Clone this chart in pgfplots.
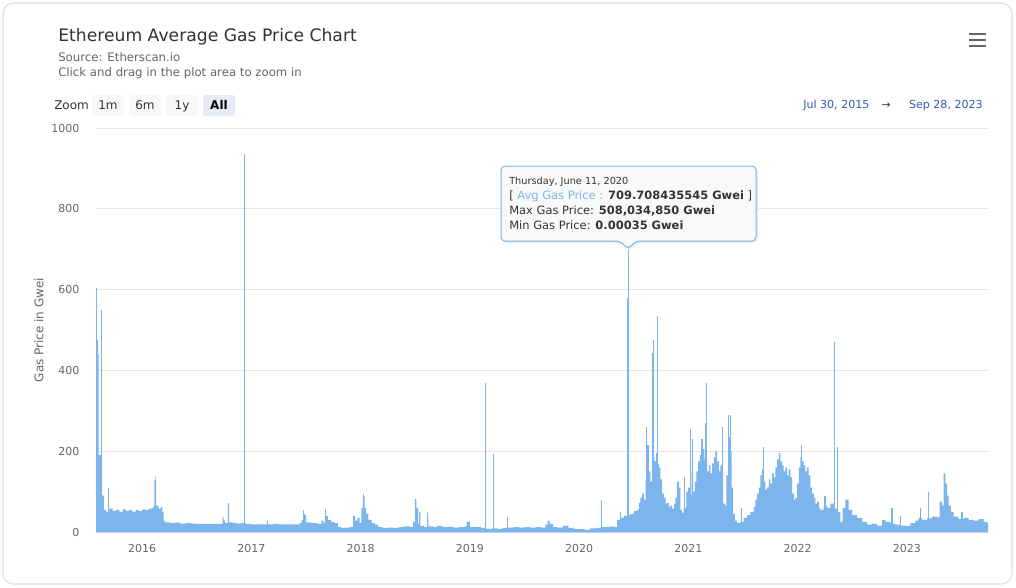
\documentclass[border=0pt]{standalone}
\usepackage{fontspec}
\setmainfont{DejaVu Sans}
\usepackage{pgfplots}
\pgfplotsset{compat=1.18}
\definecolor{bar}{HTML}{7CB5EC}
\definecolor{txt}{HTML}{333333}
\definecolor{sub}{HTML}{666666}
\definecolor{gridc}{HTML}{E6E6E6}
\definecolor{axisc}{HTML}{CCD6EB}
\definecolor{range}{HTML}{335CAD}
\definecolor{btn}{HTML}{F7F7F7}
\definecolor{btnsel}{HTML}{E6EBF5}
\definecolor{tipbg}{HTML}{F9F9F9}

\pgfplotstableread{
x y
2015.577 475
2015.586 475
2015.595 440
2015.601 190
2015.632 90
2015.650 55
2015.670 50
2015.700 58
2015.730 52
2015.760 55
2015.790 50
2015.820 56
2015.850 52
2015.880 55
2015.910 50
2015.940 54
2015.970 52
2016.000 56
2016.030 54
2016.060 58
2016.090 60
2016.105 65
2016.112 128
2016.120 138
2016.128 65
2016.150 58
2016.170 62
2016.185 50
2016.195 28
2016.210 24
2016.250 22
2016.300 23
2016.350 21
2016.400 22
2016.450 21
2016.500 20
2016.550 20
2016.600 20
2016.650 20
2016.700 20
2016.735 38
2016.745 28
2016.760 22
2016.785 65
2016.795 24
2016.830 22
2016.870 21
2016.900 22
2016.950 20
2017.000 19
2017.050 19
2017.100 19
2017.140 28
2017.150 19
2017.200 20
2017.250 19
2017.300 19
2017.350 19
2017.400 19
2017.440 22
2017.460 30
2017.475 45
2017.490 42
2017.500 24
2017.550 22
2017.600 20
2017.640 28
2017.660 22
2017.680 40
2017.700 30
2017.730 25
2017.760 22
2017.790 12
2017.820 10
2017.860 11
2017.900 12
2017.930 40
2017.950 28
2017.970 35
2017.990 22
2018.005 60
2018.020 88
2018.035 60
2018.050 45
2018.070 30
2018.100 22
2018.130 18
2018.160 12
2018.200 10
2018.250 11
2018.300 10
2018.350 12
2018.400 14
2018.450 12
2018.480 25
2018.495 80
2018.510 60
2018.525 20
2018.535 50
2018.545 15
2018.580 12
2018.610 35
2018.620 14
2018.660 12
2018.700 15
2018.750 12
2018.800 13
2018.850 11
2018.900 12
2018.950 14
2018.970 25
2019.000 12
2019.050 13
2019.100 10
2019.150 8
2019.200 9
2019.250 8
2019.300 10
2019.350 11
2019.400 12
2019.450 11
2019.500 12
2019.550 11
2019.600 12
2019.650 11
2019.690 18
2019.710 28
2019.730 20
2019.760 12
2019.800 11
2019.850 15
2019.900 10
2019.950 8
2020.000 7
2020.050 5
2020.100 9
2020.150 10
2020.210 12
2020.250 13
2020.290 14
2020.317 12
2020.347 30
2020.378 35
2020.408 40
2020.439 42
2020.469 45
2020.500 52
2020.530 55
2020.546 72
2020.561 85
2020.576 95
2020.591 80
2020.607 130
2020.616 175
2020.622 215
2020.637 150
2020.652 125
2020.668 185
2020.689 175
2020.701 195
2020.713 168
2020.729 160
2020.744 130
2020.759 95
2020.774 85
2020.790 70
2020.805 72
2020.820 62
2020.835 66
2020.851 58
2020.866 70
2020.881 85
2020.896 125
2020.912 110
2020.927 55
2020.942 48
2020.957 60
2020.982 100
2020.997 110
2021.012 92
2021.028 150
2021.043 100
2021.058 125
2021.073 150
2021.089 175
2021.104 190
2021.116 230
2021.131 205
2021.146 180
2021.171 150
2021.186 165
2021.201 145
2021.217 170
2021.232 185
2021.247 200
2021.262 175
2021.278 150
2021.293 165
2021.317 70
2021.333 65
2021.348 140
2021.363 235
2021.378 200
2021.394 110
2021.409 45
2021.424 28
2021.445 22
2021.476 25
2021.506 35
2021.537 42
2021.567 50
2021.598 62
2021.613 80
2021.628 95
2021.644 110
2021.659 140
2021.674 155
2021.689 125
2021.705 105
2021.720 110
2021.735 130
2021.750 120
2021.766 145
2021.781 135
2021.796 160
2021.811 180
2021.827 195
2021.842 175
2021.857 165
2021.872 150
2021.888 160
2021.903 140
2021.918 155
2021.933 135
2021.949 95
2021.964 80
2021.979 85
2021.994 120
2022.010 160
2022.025 185
2022.040 175
2022.055 165
2022.071 150
2022.086 160
2022.101 140
2022.116 110
2022.132 95
2022.147 85
2022.162 70
2022.177 75
2022.193 60
2022.208 55
2022.238 65
2022.269 60
2022.299 70
2022.330 58
2022.360 50
2022.391 25
2022.412 60
2022.437 80
2022.467 55
2022.498 42
2022.543 35
2022.589 25
2022.635 18
2022.681 20
2022.726 16
2022.772 30
2022.802 25
2022.848 20
2022.894 18
2022.940 16
2022.985 15
2023.031 22
2023.077 28
2023.107 35
2023.138 30
2023.184 34
2023.229 38
2023.275 36
2023.299 75
2023.321 65
2023.336 145
2023.351 120
2023.367 90
2023.382 65
2023.403 50
2023.428 38
2023.473 32
2023.519 35
2023.565 30
2023.611 28
2023.656 32
2023.702 25
2023.733 22
2023.742 22
}\basedata

\pgfplotstableread{
x y
2015.580 603
2015.626 550
2015.693 110
2016.790 72
2016.940 936
2017.480 55
2017.680 58
2018.025 93
2018.500 82
2018.610 50
2019.141 370
2019.214 192
2019.340 36
2020.203 80
2020.378 50
2020.441 580
2020.447 710
2020.614 260
2020.671 444
2020.683 475
2020.720 535
2020.967 135
2021.018 255
2021.034 230
2021.156 270
2021.162 370
2021.309 260
2021.367 290
2021.384 290
2021.485 60
2021.690 210
2022.034 215
2022.250 90
2022.339 471
2022.366 210
2022.863 60
2022.945 40
2023.123 60
2023.199 100
2023.504 50
}\spikes

\begin{document}
\begin{tikzpicture}[x=0.75pt,y=0.75pt]
\fill[white] (0,0) rectangle (1016,587);
\draw[black!12, line width=0.8pt, rounded corners=8pt] (3,3) rectangle (1012,584);

\begin{axis}[
  at={(72pt,41.25pt)}, anchor=south west,
  scale only axis, width=669pt, height=303pt,
  xmin=2015.577, xmax=2023.742, ymin=0, ymax=1000,
  axis lines*=left,
  x axis line style={draw=axisc, line width=0.75pt},
  y axis line style={draw=none},
  ymajorgrids, grid style={draw=gridc, line width=0.75pt},
  major tick length=0pt,
  ytick={0,200,...,1000},
  xtick={2016,...,2023},
  /pgf/number format/assume math mode=true,
  /pgf/number format/1000 sep={},
  ticklabel style={font=\fontsize{8.25}{10}\selectfont, text=sub},
  yticklabel style={xshift=-9pt},
  xticklabel style={yshift=-6pt},
  clip=false,
]
\addplot[const plot, fill=bar, draw=none] table[x=x, y=y] {\basedata} \closedcycle;
\addplot[ycomb, draw=bar, line width=0.8pt, mark=none] table[x=x, y=y] {\spikes};
\end{axis}

% axis title
\node[rotate=90, text=sub, font=\fontsize{9}{11}\selectfont] at (39,{587-330}) {Gas Price in Gwei};

% titles
\node[anchor=base west, text=txt, font=\fontsize{12.9}{16}\selectfont, inner sep=0] at (58,{587-42}) {Ethereum Average Gas Price Chart};
\node[anchor=base west, text=sub, font=\fontsize{8.8}{10}\selectfont, inner sep=0] at (58,{587-61}) {Source: Etherscan.io};
\node[anchor=base west, text=sub, font=\fontsize{8.8}{10}\selectfont, inner sep=0] at (58,{587-77}) {Click and drag in the plot area to zoom in};

% menu icon
\foreach \yy in {34,40,46} \draw[sub, line width=2pt] (969,{587-\yy}) -- (986,{587-\yy});

% zoom buttons
\node[anchor=base west, text=txt, font=\fontsize{9}{11}\selectfont, inner sep=0] at (54,{587-109}) {Zoom};
\fill[btn, rounded corners=2pt] (92,{587-116}) rectangle (124,{587-95});
\fill[btn, rounded corners=2pt] (129,{587-116}) rectangle (161,{587-95});
\fill[btn, rounded corners=2pt] (166,{587-116}) rectangle (198,{587-95});
\fill[btnsel, rounded corners=2pt] (203,{587-116}) rectangle (235,{587-95});
\node[anchor=base, text=txt, font=\fontsize{9}{11}\selectfont, inner sep=0] at (108,{587-109}) {1m};
\node[anchor=base, text=txt, font=\fontsize{9}{11}\selectfont, inner sep=0] at (145,{587-109}) {6m};
\node[anchor=base, text=txt, font=\fontsize{9}{11}\selectfont, inner sep=0] at (182,{587-109}) {1y};
\node[anchor=base, text=black, font=\bfseries\fontsize{9}{11}\selectfont, inner sep=0] at (219,{587-109}) {All};

% date range
\node[anchor=base west, text=range, font=\fontsize{8.3}{10}\selectfont, inner sep=0] at (803,{587-108}) {Jul 30, 2015};
\node[anchor=base, text=txt, font=\fontsize{8}{10}\selectfont, inner sep=0] at (886,{587-108}) {→};
\node[anchor=base east, text=range, font=\fontsize{8.3}{10}\selectfont, inner sep=0] at (983,{587-108}) {Sep 28, 2023};

% tooltip
\fill[black!7, rounded corners=3pt] (502,{587-168}) -- (758,{587-168}) -- (758,{587-243}) -- (637,{587-243}) -- (629,{587-251}) -- (621,{587-243}) -- (502,{587-243}) -- cycle;
\filldraw[fill=tipbg, draw=bar, line width=0.75pt, rounded corners=3pt] (501,{587-166}) -- (756,{587-166}) -- (756,{587-241}) -- (636,{587-241}) -- (628,{587-249}) -- (620,{587-241}) -- (501,{587-241}) -- cycle;
\node[anchor=base west, text=txt, font=\fontsize{7.3}{9}\selectfont, inner sep=0] at (509,{587-184}) {Thursday, June 11, 2020};
\node[anchor=base west, text=txt, font=\fontsize{8.6}{11}\selectfont, inner sep=0] at (509,{587-199}) {[ \textcolor{bar}{Avg Gas Price :} \textbf{709.708435545 Gwei} ]};
\node[anchor=base west, text=txt, font=\fontsize{8.6}{11}\selectfont, inner sep=0] at (509,{587-214}) {Max Gas Price: \textbf{508,034,850 Gwei}};
\node[anchor=base west, text=txt, font=\fontsize{8.6}{11}\selectfont, inner sep=0] at (509,{587-229}) {Min Gas Price: \textbf{0.00035 Gwei}};
\end{tikzpicture}
\end{document}
